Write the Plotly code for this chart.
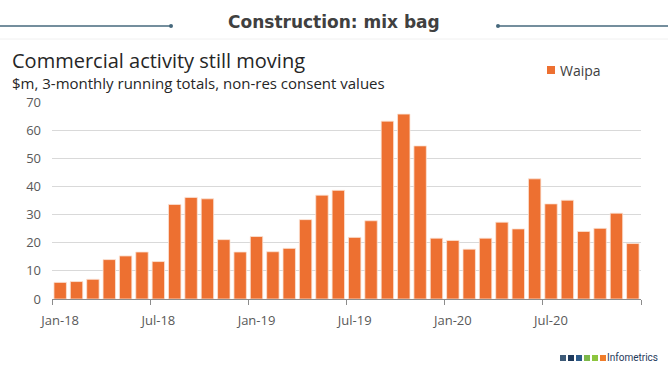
import plotly.graph_objects as go

# ---- data ----
months = [
    "Jan-18", "Feb-18", "Mar-18", "Apr-18", "May-18", "Jun-18",
    "Jul-18", "Aug-18", "Sep-18", "Oct-18", "Nov-18", "Dec-18",
    "Jan-19", "Feb-19", "Mar-19", "Apr-19", "May-19", "Jun-19",
    "Jul-19", "Aug-19", "Sep-19", "Oct-19", "Nov-19", "Dec-19",
    "Jan-20", "Feb-20", "Mar-20", "Apr-20", "May-20", "Jun-20",
    "Jul-20", "Aug-20", "Sep-20", "Oct-20", "Nov-20", "Dec-20",
]
waipa = [
    5.9, 6.2, 7.0, 14.0, 15.3, 16.7,
    13.3, 33.6, 36.1, 35.6, 21.1, 16.7,
    22.2, 16.8, 18.0, 28.2, 36.9, 38.6,
    21.9, 27.8, 63.2, 65.7, 54.4, 21.6,
    20.8, 17.7, 21.6, 27.3, 24.9, 42.7,
    33.8, 35.1, 24.0, 25.1, 30.5, 19.7,
]
tick_labels = ["Jan-18", "Jul-18", "Jan-19", "Jul-19", "Jan-20", "Jul-20"]
y_ticks = [0, 10, 20, 30, 40, 50, 60, 70]
series_name = "Waipa"

# ---- layout geometry (pixels) ----
WIDTH, HEIGHT = 668, 371
L, R, T, B = 52, 641, 102, 299
PW, PH = R - L, B - T


def px(x):
    return (x - L) / PW


def py(y):
    return (B - y) / PH


xpos = list(range(len(months)))
tickvals = [months.index(m) for m in tick_labels]
bar_color = "#ED7031"

fig = go.Figure()
fig.add_trace(go.Bar(
    x=xpos, y=waipa, name=series_name,
    marker=dict(color=bar_color, line=dict(color="#FBE3D6", width=0.8)),
    hovertext=months, showlegend=False,
))

font_main = "Open Sans, Noto Sans, DejaVu Sans, sans-serif"

fig.update_layout(
    width=WIDTH, height=HEIGHT,
    margin=dict(l=L, r=WIDTH - R, t=T, b=HEIGHT - B, autoexpand=False),
    paper_bgcolor="white", plot_bgcolor="white",
    bargap=0.24,
    font=dict(family=font_main, color="#595959"),
)

fig.update_xaxes(
    range=[-0.5, len(months) - 0.5],
    tickmode="array", tickvals=tickvals, ticktext=tick_labels,
    ticks="", showgrid=False, zeroline=False,
    showline=True, linecolor="#8c8c8c", linewidth=1,
    ticklabelstandoff=9,
    tickfont=dict(family=font_main, size=13, color="#595959"),
    minor=dict(tickmode="linear", tick0=-0.5, dtick=6, ticks="outside",
               ticklen=5, tickcolor="#8c8c8c", tickwidth=1, showgrid=False),
)
fig.update_yaxes(
    range=[0, 70], tickmode="array", tickvals=y_ticks,
    showgrid=True, gridcolor="#D9D9D9", gridwidth=1,
    zeroline=False, showline=False, ticks="",
    ticklabelstandoff=10,
    tickfont=dict(family=font_main, size=13, color="#595959"),
)

# legend (drawn manually to match the compact original)
fig.add_shape(type="rect", xref="paper", yref="paper",
              x0=px(547), x1=px(555), y0=py(74), y1=py(66),
              fillcolor=bar_color, line=dict(width=0))
fig.add_annotation(
    x=px(558), y=py(70), xref="paper", yref="paper",
    text=series_name, showarrow=False, xanchor="left", yanchor="middle",
    font=dict(family=font_main, size=14, color="#404040"),
)

# header
fig.add_annotation(
    x=px(334), y=py(22), xref="paper", yref="paper",
    text="<b>Construction: mix bag</b>", showarrow=False,
    xanchor="center", yanchor="middle",
    font=dict(family="DejaVu Sans, sans-serif", size=17, color="#404040"),
)
line_col = "#46687C"
fig.add_shape(type="line", xref="paper", yref="paper",
              x0=px(0), x1=px(171), y0=py(26), y1=py(26),
              line=dict(color=line_col, width=1.3))
fig.add_shape(type="line", xref="paper", yref="paper",
              x0=px(498), x1=px(668), y0=py(26), y1=py(26),
              line=dict(color=line_col, width=1.3))
for cx in (171, 498):
    fig.add_shape(type="circle", xref="paper", yref="paper",
                  x0=px(cx - 2), x1=px(cx + 2), y0=py(28), y1=py(24),
                  fillcolor=line_col, line=dict(width=0))
fig.add_shape(type="line", xref="paper", yref="paper",
              x0=px(0), x1=px(668), y0=py(39), y1=py(39),
              line=dict(color="#F0F0F0", width=1))

# titles
fig.add_annotation(
    x=px(10), y=py(60), xref="paper", yref="paper",
    text="Commercial activity still moving", showarrow=False,
    xanchor="left", yanchor="middle",
    font=dict(family=font_main, size=20, color="#262626"),
)
fig.add_annotation(
    x=px(10), y=py(83), xref="paper", yref="paper",
    text="$m, 3-monthly running totals, non-res consent values", showarrow=False,
    xanchor="left", yanchor="middle",
    font=dict(family=font_main, size=15, color="#262626"),
)

# logo
logo_cols = ["#3E5B78", "#1F3A5C", "#2D5B8A", "#7DB84A", "#8DC63F", "#F07C2A"]
x0 = 560
for i, c in enumerate(logo_cols):
    fig.add_shape(type="rect", xref="paper", yref="paper",
                  x0=px(x0 + i * 8), x1=px(x0 + i * 8 + 6),
                  y0=py(361), y1=py(355),
                  fillcolor=c, line=dict(width=0))
fig.add_annotation(
    x=px(660), y=py(357), xref="paper", yref="paper",
    text="Infometrics", showarrow=False, xanchor="right", yanchor="middle",
    font=dict(family="Liberation Sans Narrow, Roboto, sans-serif", size=10, color="#1F3A5C"),
)

fig.write_html("out.html", config={"displayModeBar": False},
               post_script="document.body.style.margin='0';document.body.style.overflow='hidden';")
